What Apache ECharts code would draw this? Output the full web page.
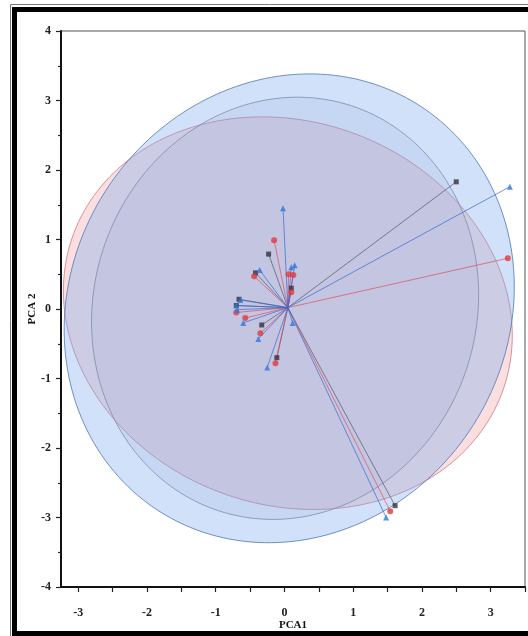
<!DOCTYPE html>
<html>
<head>
<meta charset="utf-8">
<script src="https://cdn.jsdelivr.net/npm/echarts@6/dist/echarts.min.js"></script>
<style>
  html, body { margin: 0; padding: 0; background: #fff; }
  #chart { width: 528px; height: 636px; }
</style>
</head>
<body>
<div id="chart"></div>
<script>
// loading vectors, [PCA1, PCA2]
const blackLoadings = [
  [2.5, 1.83], [1.61, -2.83], [-0.23, 0.79], [-0.42, 0.52], [-0.66, 0.14],
  [-0.33, -0.23], [-0.11, -0.7], [0.1, 0.3], [-0.7, 0.05],
]
const redLoadings = [
  [3.25, 0.73], [1.54, -2.91], [-0.15, 0.99], [-0.44, 0.47], [0.06, 0.5],
  [0.13, 0.49], [0.1, 0.24], [-0.57, -0.13], [-0.35, -0.35], [-0.13, -0.78],
  [-0.7, -0.05],
]
const blueLoadings = [
  [3.28, 1.76], [1.48, -3.0], [-0.02, 1.45], [-0.36, 0.56], [0.15, 0.63],
  [0.1, 0.6], [-0.64, 0.13], [-0.69, -0.01], [-0.6, -0.2], [-0.38, -0.43],
  [-0.25, -0.84], [0.12, -0.2], [-0.7, 0.05],
]
const vectorOrigin = [0.05, 0.02]

// confidence ellipses: [centerX, centerY, semiMajor, semiMinor, angleDeg]
const redEllipse = [0.05, -0.06, 3.32, 2.76, -19]
const blueEllipse = [0.07, 0.01, 3.48, 3.16, 54]
const blackEllipse = [0.01, 0.01, 3.07, 2.78, 70]

const xLabelValues = [-3, -2, -1, 0, 1, 2, 3]
const xTickValues = [-3, -2.5, -2, -1.5, -1, -0.5, 0, 0.5, 1, 1.5, 2, 2.5, 3, 3.5]

const serif = 'Liberation Serif'

function ellipseSeries(e, fill, stroke) {
  return {
    type: 'custom',
    z: 1,
    silent: true,
    clip: false,
    data: [e],
    encode: { x: 0, y: 1 },
    renderItem: (params, api) => {
      const cx = api.value(0)
      const cy = api.value(1)
      const a = api.value(2)
      const b = api.value(3)
      const th = (api.value(4) * Math.PI) / 180
      const pts = []
      for (let i = 0; i < 200; i++) {
        const t = (i / 200) * 2 * Math.PI
        pts.push(
          api.coord([
            cx + a * Math.cos(t) * Math.cos(th) - b * Math.sin(t) * Math.sin(th),
            cy + a * Math.cos(t) * Math.sin(th) + b * Math.sin(t) * Math.cos(th),
          ])
        )
      }
      return {
        type: 'polygon',
        shape: { points: pts },
        style: { fill, stroke, lineWidth: 1 },
      }
    },
  }
}

function vectorSeries(data, color) {
  return {
    type: 'custom',
    z: 2,
    silent: true,
    clip: false,
    data,
    encode: { x: 0, y: 1 },
    renderItem: (params, api) => {
      const p0 = api.coord(vectorOrigin)
      const p1 = api.coord([api.value(0), api.value(1)])
      return {
        type: 'line',
        shape: { x1: p0[0], y1: p0[1], x2: p1[0], y2: p1[1] },
        style: { stroke: color, lineWidth: 1 },
      }
    },
  }
}

function pointSeries(data, symbol, size, color) {
  return {
    type: 'scatter',
    z: 3,
    data,
    symbol,
    symbolSize: size,
    itemStyle: { color },
  }
}

const chart = echarts.init(document.getElementById('chart'))
chart.setOption({
  animation: false,
  backgroundColor: '#fff',
  grid: {
    left: 61,
    right: 3,
    top: 31,
    bottom: 49,
    outerBoundsMode: 'none',
    show: true,
    borderColor: '#555',
    borderWidth: 1,
  },
  xAxis: {
    type: 'value',
    min: -3.25,
    max: 3.5,
    name: 'PCA1',
    nameLocation: 'middle',
    nameGap: 33,
    nameMoveOverlap: false,
    nameTextStyle: { fontFamily: serif, fontWeight: 'bold', fontSize: 11, color: '#111' },
    splitLine: { show: false },
    axisLine: { onZero: false, lineStyle: { color: '#111', width: 2 } },
    axisTick: { customValues: xTickValues, length: 5, lineStyle: { color: '#222', width: 1.2 } },
    axisLabel: {
      customValues: xLabelValues,
      margin: 20,
      fontFamily: serif,
      fontWeight: 'bold',
      fontSize: 12,
      color: '#222',
    },
  },
  yAxis: {
    type: 'value',
    min: -4,
    max: 4,
    interval: 1,
    name: 'PCA 2',
    nameLocation: 'middle',
    nameGap: 23,
    nameRotate: 90,
    nameMoveOverlap: false,
    nameTextStyle: { fontFamily: serif, fontWeight: 'bold', fontSize: 11, color: '#111' },
    splitLine: { show: false },
    axisLine: { onZero: false, lineStyle: { color: '#111', width: 2 } },
    axisTick: { length: 5, lineStyle: { color: '#222', width: 1.2 } },
    minorTick: { show: true, splitNumber: 2, length: 3, lineStyle: { color: '#222', width: 1.2 } },
    axisLabel: {
      margin: 10,
      fontFamily: serif,
      fontWeight: 'bold',
      fontSize: 12,
      color: '#222',
    },
  },
  graphic: [
    {
      type: 'rect',
      z: 100,
      silent: true,
      shape: { x: 10.5, y: 4.5, width: 600, height: 700 },
      style: { fill: null, stroke: '#777', lineWidth: 1 },
    },
    {
      type: 'rect',
      z: 100,
      silent: true,
      shape: { x: 14.5, y: 9.5, width: 600, height: 624 },
      style: { fill: null, stroke: '#000', lineWidth: 5 },
    },
  ],
  series: [
    ellipseSeries(redEllipse, 'rgba(240,130,135,0.26)', 'rgba(210,120,130,0.8)'),
    ellipseSeries(blueEllipse, 'rgba(125,172,238,0.36)', 'rgba(80,120,180,0.8)'),
    ellipseSeries(blackEllipse, 'rgba(120,150,200,0.12)', 'rgba(130,140,170,0.8)'),
    vectorSeries(blackLoadings, 'rgba(85,85,105,0.7)'),
    vectorSeries(redLoadings, 'rgba(220,80,95,0.7)'),
    vectorSeries(blueLoadings, 'rgba(55,105,210,0.7)'),
    pointSeries(blackLoadings, 'rect', 5, '#333340'),
    pointSeries(redLoadings, 'circle', 6, '#e03a40'),
    pointSeries(blueLoadings, 'triangle', 6, '#2f78d8'),
  ],
})
</script>
</body>
</html>
